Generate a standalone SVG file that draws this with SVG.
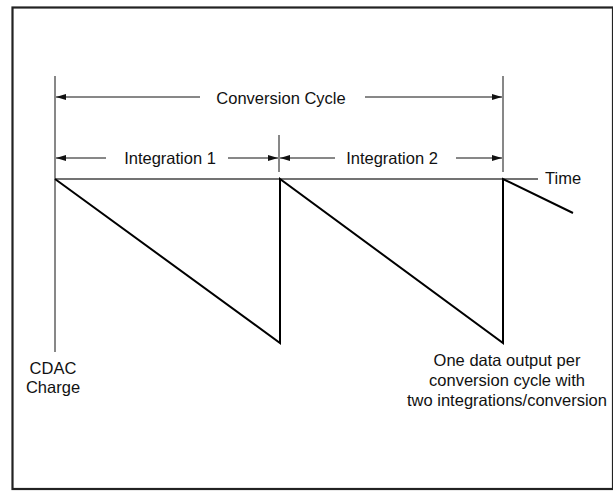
<svg xmlns="http://www.w3.org/2000/svg" width="613" height="491" viewBox="0 0 613 491">
<style>
  text { font-family: "Liberation Sans", Arial, sans-serif; font-size: 16.5px; fill: #111; }
  .thin { stroke: #111; stroke-width: 1; fill: none; }
  .dim { stroke: #111; stroke-width: 1; fill: none; marker-end: url(#ah); }
  .wave { stroke: #000; stroke-width: 2; fill: none; stroke-linejoin: miter; }
  .axis { stroke: #444; stroke-width: 1.6; fill: none; }
</style>
<defs>
  <marker id="ah" viewBox="0 0 10 6" refX="10" refY="3" markerWidth="10" markerHeight="6" markerUnits="userSpaceOnUse" orient="auto">
    <path d="M0,0 L10,3 L0,6 Z" fill="#111"/>
  </marker>
</defs>
<rect x="12.5" y="7.5" width="600.5" height="481.5" fill="#fff" stroke="#222" stroke-width="2.2"/>

<g id="guides">
  <line class="thin" x1="55" y1="76" x2="55" y2="352"/>
  <line class="thin" x1="503" y1="76" x2="503" y2="172"/>
  <line class="thin" x1="279" y1="135" x2="279" y2="172"/>
</g>

<g id="connectors">
  <line class="dim" x1="200" y1="97" x2="56" y2="97"/>
  <line class="dim" x1="365" y1="97" x2="502" y2="97"/>
  <line class="dim" x1="106" y1="158" x2="56" y2="158"/>
  <line class="dim" x1="228" y1="158" x2="278" y2="158"/>
  <line class="dim" x1="335" y1="158" x2="280" y2="158"/>
  <line class="dim" x1="456" y1="158" x2="502" y2="158"/>
</g>

<g id="time-axis">
  <line class="axis" x1="55" y1="179" x2="538" y2="179"/>
  <text x="545" y="184">Time</text>
</g>

<g id="waveform">
  <path class="wave" d="M55,179 L280,343 L280,179 L503,343 L503,179 L573,213"/>
</g>

<g id="label-conversion-cycle">
  <text x="281" y="104" text-anchor="middle">Conversion Cycle</text>
</g>
<g id="label-integration-1">
  <text x="170" y="164" text-anchor="middle">Integration 1</text>
</g>
<g id="label-integration-2">
  <text x="392" y="164" text-anchor="middle">Integration 2</text>
</g>
<g id="label-cdac">
  <text x="53" y="374" text-anchor="middle">CDAC</text>
  <text x="53" y="393" text-anchor="middle">Charge</text>
</g>
<g id="label-output">
  <text x="507" y="366" text-anchor="middle">One data output per</text>
  <text x="507" y="386" text-anchor="middle">conversion cycle with</text>
  <text x="507" y="406" text-anchor="middle">two integrations/conversion</text>
</g>
</svg>
